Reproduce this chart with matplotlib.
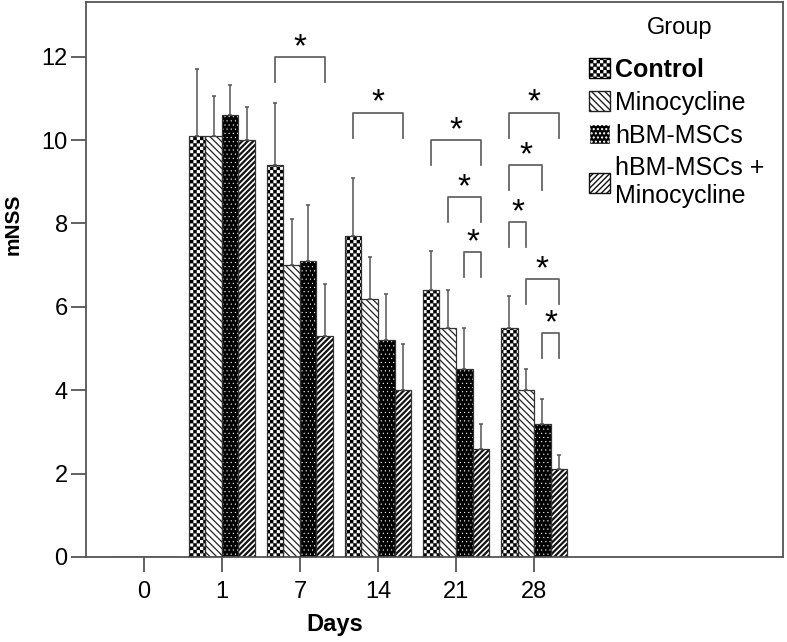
import numpy as np
import matplotlib
matplotlib.use('Agg')
import matplotlib.pyplot as plt
import matplotlib.hatch as mhatch
from matplotlib.patches import Patch
from matplotlib.path import Path

days = ['0', '1', '7', '14', '21', '28']
groups = ['Control', 'Minocycline', 'hBM-MSCs', 'hBM-MSCs +\nMinocycline']

control = [0, 10.1, 9.4, 7.7, 6.4, 5.5]
minocycline = [0, 10.1, 7.0, 6.2, 5.5, 4.0]
hbm = [0, 10.6, 7.1, 5.2, 4.5, 3.2]
combined = [0, 10.0, 5.3, 4.0, 2.6, 2.1]

control_err = [0, 1.6, 1.5, 1.4, 0.95, 0.75]
minocycline_err = [0, 0.95, 1.1, 1.0, 0.9, 0.5]
hbm_err = [0, 0.73, 1.35, 1.1, 1.0, 0.58]
combined_err = [0, 0.8, 1.25, 1.1, 0.6, 0.35]

# significance brackets: (day index, bar a, bar b, height)
brackets = [
    (2, 0, 3, 12.0),
    (3, 0, 3, 10.66),
    (4, 0, 3, 10.01),
    (4, 1, 3, 8.64),
    (4, 2, 3, 7.32),
    (5, 0, 3, 10.66),
    (5, 0, 2, 9.41),
    (5, 0, 1, 8.04),
    (5, 1, 3, 6.67),
    (5, 2, 3, 5.38),
]


# checkerboard hatch (takes the place of the '*' star hatch)
class Checker(mhatch.HatchPatternBase):
    def __init__(self, hatch, density):
        self.n = hatch.count('*') * density * 5
        self.num_vertices = (self.n * self.n // 2) * 5

    def set_vertices_and_codes(self, vertices, codes):
        n = self.n
        s = 1.0 / n
        pad = 0.006
        sq = np.array([[0, 0], [1, 0], [1, 1], [0, 1], [0, 0]]) * (s - 2 * pad) + pad
        sq_codes = [Path.MOVETO, Path.LINETO, Path.LINETO, Path.LINETO, Path.CLOSEPOLY]
        parts = []
        for i in range(n):
            for j in range(n):
                if (i + j) % 2 == 0:
                    parts.append(sq + [i * s, j * s])
        vertices[:] = np.concatenate(parts)
        codes[:] = np.tile(sq_codes, len(parts))


mhatch._hatch_types = [t for t in mhatch._hatch_types if t is not mhatch.Stars] + [Checker]

plt.rcParams['font.family'] = ['Liberation Sans', 'DejaVu Sans']
plt.rcParams['hatch.linewidth'] = 1.0

fig = plt.figure(figsize=(7.87, 6.42), dpi=100)
ax = fig.add_axes([0.109, 0.1324, 0.886, 0.865])

x = np.arange(len(days))
w = 0.212
edge = '#333333'
styles = [
    dict(facecolor='white', edgecolor='#000000', hatch='*'),
    dict(facecolor='white', edgecolor='#222222', hatch='\\\\\\\\\\'),
    dict(facecolor='black', edgecolor='white', hatch='....'),
    dict(facecolor='white', edgecolor='#111111', hatch='//////'),
]
hatch_lw = [1.0, 0.9, 0.3, 1.6]
values = [control, minocycline, hbm, combined]
errs = [control_err, minocycline_err, hbm_err, combined_err]


def set_hlw(patch, lw):
    if hasattr(patch, 'set_hatch_linewidth'):
        patch.set_hatch_linewidth(lw)


for k in range(4):
    pos = x + (k - 1.5) * w
    bars = ax.bar(pos, values[k], w, linewidth=0, zorder=2, **styles[k])
    for b in bars:
        set_hlw(b, hatch_lw[k])
    ax.bar(pos, values[k], w, fill=False, edgecolor=edge, linewidth=0.9, zorder=3)
    up = [e if v > 0 else 0 for v, e in zip(values[k], errs[k])]
    ax.errorbar(pos[1:], np.array(values[k])[1:], yerr=[np.zeros(5), np.array(up)[1:]],
                fmt='none', ecolor='#555555', elinewidth=1.1, capsize=1.6, capthick=1.1, zorder=4)

leg_len = 0.6
for d, a, b, h in brackets:
    xa = x[d] + (a - 1.5) * w
    xb = x[d] + (b - 1.5) * w
    ax.plot([xa, xa, xb, xb], [h - leg_len, h, h, h - leg_len], color='#666666', lw=1.3, zorder=5)
    ax.text((xa + xb) / 2, h + 0.02, '*', ha='center', va='baseline', fontsize=24, zorder=5)

ax.set_xlim(-0.744, 8.19)
ax.set_ylim(0, 13.32)
ax.set_xticks(x)
ax.set_xticklabels(days)
ax.set_yticks(range(0, 13, 2))
ax.tick_params(axis='both', direction='out', length=11, width=1.3, color='#555555',
               labelsize=17, pad=6)
ax.tick_params(axis='y', pad=2)
for sp in ax.spines.values():
    sp.set_color('#555555')
    sp.set_linewidth(1.3)

ax.set_xlabel('Days', fontsize=17, fontweight='bold')
ax.xaxis.set_label_coords(0.357, -0.101)
ax.set_ylabel('mNSS', fontsize=15, fontweight='bold')
ax.yaxis.set_label_coords(-0.09, 0.6)

handles = []
for k in range(4):
    p = Patch(**styles[k])
    set_hlw(p, hatch_lw[k])
    handles.append(p)
leg = ax.legend(handles, groups, loc='upper right', bbox_to_anchor=(0.998, 0.93),
                frameon=False, fontsize=18, handlelength=0.85,
                handleheight=0.85, handletextpad=0.2, labelspacing=0.35, borderpad=0.2)
leg.get_texts()[0].set_fontweight('bold')
ax.text(0.852, 0.953, 'Group', transform=ax.transAxes, ha='center', va='center', fontsize=17)

fig.savefig('out.png', dpi=100)
